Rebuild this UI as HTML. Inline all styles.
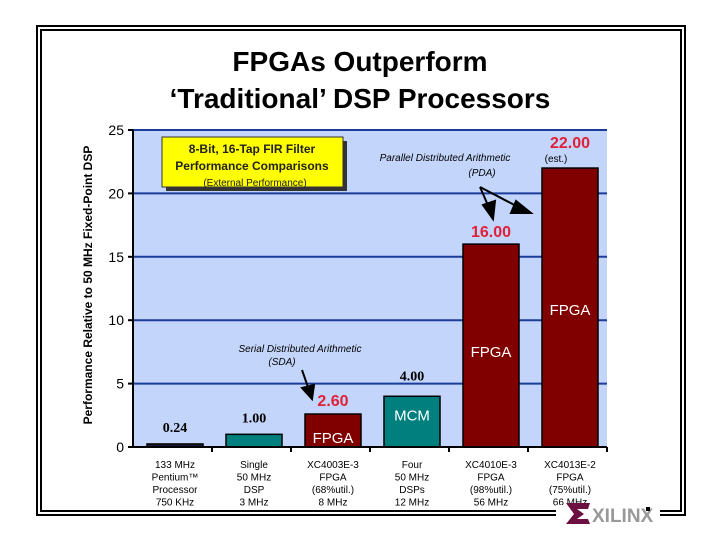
<!DOCTYPE html>
<html><head><meta charset="utf-8"><style>
body{margin:0;background:#fff;}
svg{display:block;font-family:"Liberation Sans",sans-serif;}
</style></head><body>
<svg width="720" height="540" viewBox="0 0 720 540">
<rect x="0" y="0" width="720" height="540" fill="#fff"/>
<rect x="37" y="26" width="648" height="489" fill="none" stroke="#000" stroke-width="2"/>
<rect x="41" y="30" width="640" height="481" fill="none" stroke="#000" stroke-width="2"/>
<text x="360" y="71" text-anchor="middle" font-size="28" font-weight="bold">FPGAs Outperform</text>
<text x="360" y="108" text-anchor="middle" font-size="28" font-weight="bold">‘Traditional’ DSP Processors</text>
<rect x="133" y="130" width="474" height="317" fill="#c3d5fa"/>
<g id="grid"></g>
<g id="bars"></g>
<g id="axes"></g>
<text transform="translate(92,285) rotate(-90)" text-anchor="middle" font-size="12" font-weight="bold">Performance Relative to 50 MHz Fixed-Point DSP</text>
<rect x="166" y="141" width="181" height="50" fill="#333"/>
<rect x="162" y="137" width="181" height="50" fill="#ffff00" stroke="#333" stroke-width="1"/>
<text x="252" y="153" text-anchor="middle" font-size="12" font-weight="bold" fill="#222">8-Bit, 16-Tap FIR Filter</text>
<text x="252" y="170" text-anchor="middle" font-size="12" font-weight="bold" fill="#222">Performance Comparisons</text>
<text x="255" y="186" text-anchor="middle" font-size="10" fill="#222">(External Performance)</text>
<text x="445" y="161" text-anchor="middle" font-size="10" font-style="italic">Parallel Distributed Arithmetic</text>
<text x="482" y="176" text-anchor="middle" font-size="10" font-style="italic">(PDA)</text>
<text x="300" y="352" text-anchor="middle" font-size="10" font-style="italic">Serial Distributed Arithmetic</text>
<text x="282" y="365" text-anchor="middle" font-size="10" font-style="italic">(SDA)</text>
<g stroke="#000" stroke-width="2" fill="#000">
<line x1="480" y1="187" x2="490" y2="210"/><polygon points="483,205 495,201 493,219"/>
<line x1="480" y1="187" x2="522" y2="209"/><polygon points="516,201 511,213 531,213"/>
</g>
<g stroke="#000" stroke-width="2" fill="#000">
<line x1="302" y1="370" x2="309" y2="390"/><polygon points="302,388 314,385 312,399"/>
</g>
<text x="556" y="162" text-anchor="middle" font-size="10">(est.)</text>
<g id="xlabels" font-size="10"></g>
<g>
<rect x="556" y="505" width="104" height="14" fill="#fff"/>
<polygon points="566,503 590,503 588,509 577,509 584,514 577,519 588,519 590,524 566,524 574,514" fill="#6b1040"/>
<text x="592" y="522" font-size="19" font-weight="bold" fill="#999">XILINX</text>
<rect x="646" y="507" width="4" height="4" fill="#000"/>
</g>
</svg>
<script>
const categories=["133 MHz|Pentium™|Processor|750 KHz","Single|50 MHz|DSP|3 MHz","XC4003E-3|FPGA|(68%util.)|8 MHz","Four|50 MHz|DSPs|12 MHz","XC4010E-3|FPGA|(98%util.)|56 MHz","XC4013E-2|FPGA|(75%util.)|66 MHz"];
const values=[0.24,1.00,2.60,4.00,16.00,22.00];
const valueLabels=["0.24","1.00","2.60","4.00","16.00","22.00"];
const barTags=["","","FPGA","MCM","FPGA","FPGA"];
const barKinds=["cpu","dsp","fpga","dsp","fpga","fpga"];
const yTicks=[0,5,10,15,20,25];
const NS="http://www.w3.org/2000/svg";
const X0=133,X1=607,Y0=447,Y1=130,YMAX=25;
const y=v=>Y0-(v/YMAX)*(Y0-Y1);
const bw=(X1-X0)/categories.length;
const x=i=>X0+i*bw;
function mk(t,a,p){const e=document.createElementNS(NS,t);for(const k in a)e.setAttribute(k,a[k]);document.getElementById(p).appendChild(e);return e;}
yTicks.forEach(t=>{
 if(t>0){const g=mk("line",{x1:X0,x2:X1,y1:y(t),y2:y(t),stroke:"#1c3c9c","stroke-width":2},"grid");
 
 }
 const tk=mk("line",{x1:X0-5,x2:X0,y1:y(t),y2:y(t),stroke:"#000","stroke-width":2},"axes");
 
 
 const l=mk("text",{x:X0-9,y:y(t)+5,"text-anchor":"end","font-size":14},"axes");l.textContent=t;
 
 
});
const ax=mk("line",{x1:X0,x2:X0,y1:Y1,y2:Y0,stroke:"#000","stroke-width":2},"axes");


const bx=mk("line",{x1:X0,x2:X1,y1:Y0,y2:Y0,stroke:"#000","stroke-width":2},"axes");


const colors={cpu:"#1a1a3a",dsp:"#007f7f",fpga:"#800000"};
values.forEach((v,i)=>{
 const bx0=x(i)+14,w=56;
 const r=mk("rect",{x:bx0,y:y(v),width:w,height:Y0-y(v),fill:colors[barKinds[i]],stroke:"#000","stroke-width":1.5},"bars");
 
 
 const red=barKinds[i]==="fpga";
 let ly=y(v)-12;
 if(i===2) ly=y(v)-8;
 if(i===3) ly=y(v)-16;
 if(i===4) ly=y(v)-7;
 if(i===5) ly=y(v)-20;
 const lab=mk("text",{x:bx0+w/2,y:ly,"text-anchor":"middle","font-size":red?16:14,"font-weight":"bold","font-family":red?"Liberation Sans, sans-serif":"Liberation Serif, serif",fill:red?"#e0203a":"#000"},"bars");
 lab.textContent=valueLabels[i];
 
 
 if(barTags[i]){
  const ty=i===4?y(v)+113:i===5?y(v)+147:y(v)+(i===2?29:24);
  const tg=mk("text",{x:bx0+w/2,y:ty,"text-anchor":"middle","font-size":15,fill:"#fff"},"bars");
  tg.textContent=barTags[i];
  
  
 }
 const tk=mk("line",{x1:x(i+1),x2:x(i+1),y1:Y0,y2:Y0+5,stroke:"#000","stroke-width":2},"axes");
 
 
 categories[i].split("|").forEach((s,j)=>{
  const t=mk("text",{x:bx0+w/2,y:468+j*12.5,"text-anchor":"middle"},"xlabels");t.textContent=s;
  
  
 });
});
</script>
</body></html>
